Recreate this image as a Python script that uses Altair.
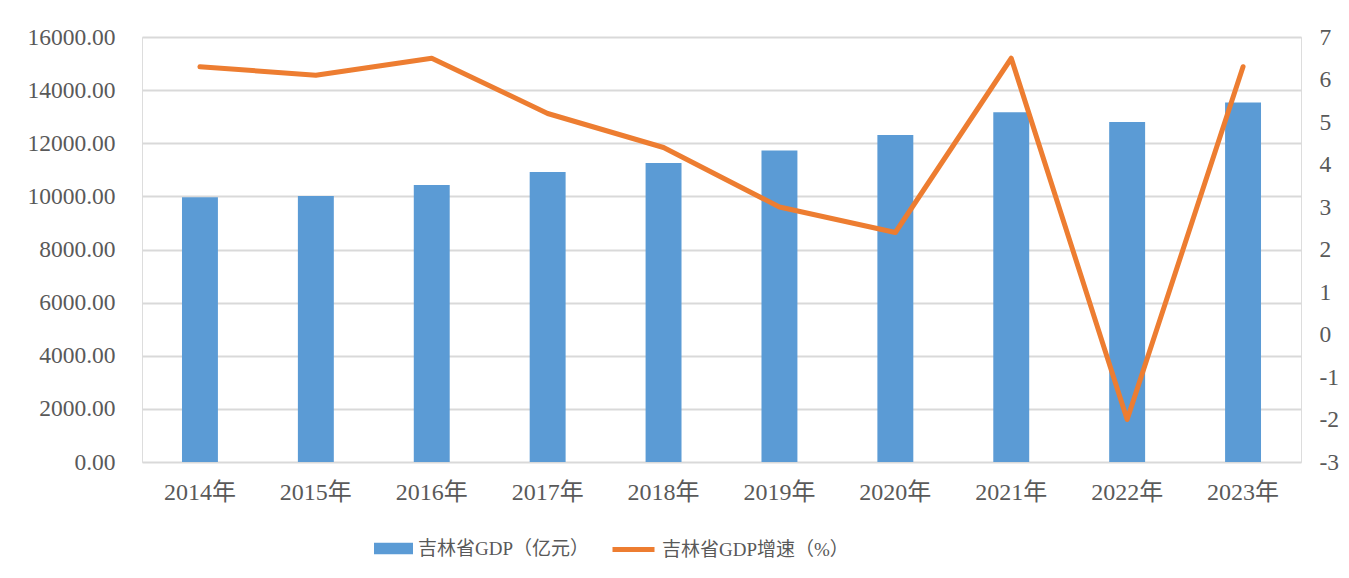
import altair as alt
import pandas as pd

years = ["2014年", "2015年", "2016年", "2017年", "2018年", "2019年", "2020年", "2021年", "2022年", "2023年"]
gdp = [9966, 10018, 10427, 10922, 11254, 11727, 12311, 13164, 12800, 13531]
growth = [6.3, 6.1, 6.5, 5.2, 4.4, 3.0, 2.4, 6.5, -2.0, 6.3]
bar_label = "吉林省GDP（亿元）"
line_label = "吉林省GDP增速（%）"
left_ticks = list(range(0, 16001, 2000))
right_ticks = list(range(-3, 8))

df = pd.DataFrame({
    "year": years,
    "gdp": gdp,
    "growth": growth,
    "s1": [bar_label] * len(years),
    "s2": [line_label] * len(years),
})

FONT = "Liberation Serif, Times New Roman, Noto Sans CJK SC"
TXT = "#595959"

x = alt.X("year:N", sort=years, title=None,
          scale=alt.Scale(paddingInner=0.69, paddingOuter=0.345),
          axis=alt.Axis(labelAngle=0, domain=False, ticks=False, tickSize=0,
                        labelPadding=18, labelFont=FONT, labelFontSize=24,
                        labelColor=TXT))

bars = alt.Chart(df).mark_bar(color="#5B9BD5").encode(
    x=x,
    y=alt.Y("gdp:Q", title=None,
            scale=alt.Scale(domain=[0, 16000], nice=False),
            axis=alt.Axis(values=left_ticks, format=".2f", domain=False,
                          ticks=False, tickSize=0, labelPadding=27,
                          labelFont=FONT, labelFontSize=23.5, labelColor=TXT,
                          grid=True, gridColor="#d9d9d9", gridWidth=2)),
    color=alt.Color("s1:N", scale=alt.Scale(domain=[bar_label], range=["#5B9BD5"]),
                    legend=alt.Legend(title=None, orient="none", legendX=232, legendY=492,
                                      symbolType="M-1,-0.3L1,-0.3L1,0.3L-1,0.3Z",
                                      symbolSize=1521, symbolStrokeWidth=0,
                                      labelFont=FONT, labelFontSize=19, labelColor=TXT,
                                      labelOffset=5, labelLimit=0, padding=0)),
)

line = alt.Chart(df).mark_line(strokeWidth=5, strokeCap="round", strokeJoin="round").encode(
    x=x,
    y=alt.Y("growth:Q", title=None,
            scale=alt.Scale(domain=[-3, 7], nice=False),
            axis=alt.Axis(values=right_ticks, orient="right", domain=False,
                          ticks=False, tickSize=0, labelPadding=18,
                          labelExpr="'' + datum.value",
                          labelFont=FONT, labelFontSize=23.5, labelColor=TXT,
                          grid=False)),
    stroke=alt.Stroke("s2:N", scale=alt.Scale(domain=[line_label], range=["#ED7D31"]),
                      legend=alt.Legend(title=None, orient="none", legendX=468, legendY=489,
                                        symbolType="stroke", symbolSize=1764,
                                        symbolStrokeWidth=5,
                                        labelFont=FONT, labelFontSize=19, labelColor=TXT,
                                        labelOffset=5, labelLimit=0, padding=0)),
)

chart = alt.layer(bars, line).resolve_scale(y="independent", color="independent").properties(
    width=1159, height=425,
    autosize=alt.AutoSizeParams(type="none"),
    padding={"left": 134, "top": 29, "right": 40, "bottom": 100},
).configure_view(stroke=None).configure(background="white")

chart.save("out.html", embed_options={"renderer": "svg", "actions": False})
